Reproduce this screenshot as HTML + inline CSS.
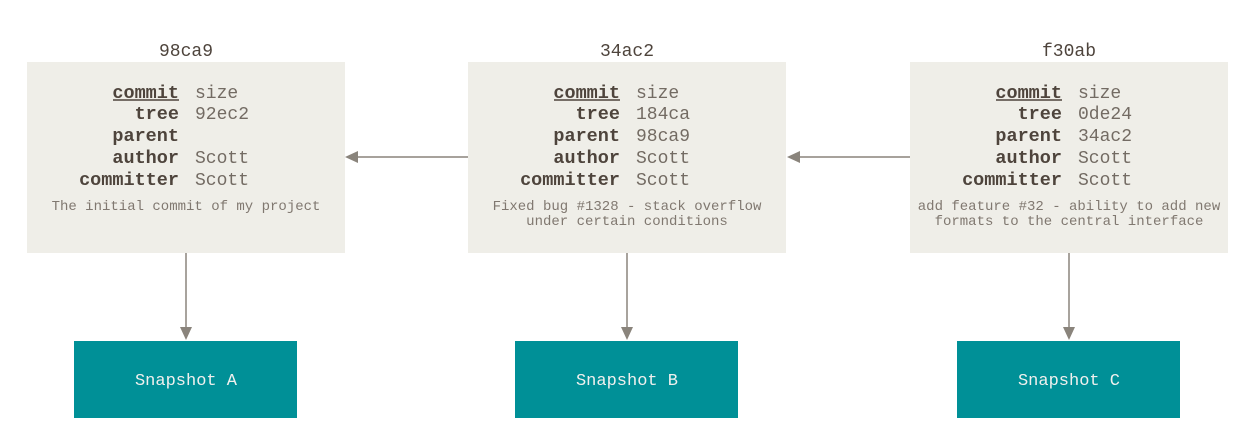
<!DOCTYPE html>
<html><head><meta charset="utf-8"><style>
html,body{margin:0;padding:0;background:#fff;}
svg{display:block;}
text{font-family:"Liberation Mono",monospace;}
.t{font-size:18px;fill:#4e443c;text-anchor:middle;}
.k{font-size:18.5px;font-weight:bold;fill:#4e443c;text-anchor:end;}
.v{font-size:18px;fill:#736b63;}
.m{font-size:14px;fill:#807870;text-anchor:middle;}
.s{font-size:17px;fill:#f0f0ee;text-anchor:middle;}
</style></head><body>
<svg width="1238" height="435" viewBox="0 0 1238 435">
<defs>
<g id="col">
</g>
</defs>
<!-- box 1 -->
<text class="t" x="186" y="56">98ca9</text>
<rect x="27" y="62" width="318" height="191" fill="#efeee8"/>
<text class="k" x="179" y="98">commit</text>
<line x1="113" y1="100" x2="179" y2="100" stroke="#4e443c" stroke-width="1.5"/>
<text class="k" x="179" y="119">tree</text>
<text class="k" x="179" y="141">parent</text>
<text class="k" x="179" y="163">author</text>
<text class="k" x="179" y="185">committer</text>
<text class="v" x="195" y="98">size</text>
<text class="v" x="195" y="119">92ec2</text>
<text class="v" x="195" y="163">Scott</text>
<text class="v" x="195" y="185">Scott</text>
<text class="m" x="186" y="210">The initial commit of my project</text>

<!-- box 2 -->
<text class="t" x="627" y="56">34ac2</text>
<rect x="468" y="62" width="318" height="191" fill="#efeee8"/>
<text class="k" x="620" y="98">commit</text>
<line x1="554" y1="100" x2="620" y2="100" stroke="#4e443c" stroke-width="1.5"/>
<text class="k" x="620" y="119">tree</text>
<text class="k" x="620" y="141">parent</text>
<text class="k" x="620" y="163">author</text>
<text class="k" x="620" y="185">committer</text>
<text class="v" x="636" y="98">size</text>
<text class="v" x="636" y="119">184ca</text>
<text class="v" x="636" y="141">98ca9</text>
<text class="v" x="636" y="163">Scott</text>
<text class="v" x="636" y="185">Scott</text>
<text class="m" x="627" y="210">Fixed bug #1328 - stack overflow</text>
<text class="m" x="627" y="225">under certain conditions</text>

<!-- box 3 -->
<text class="t" x="1069" y="56">f30ab</text>
<rect x="910" y="62" width="318" height="191" fill="#efeee8"/>
<text class="k" x="1062" y="98">commit</text>
<line x1="996" y1="100" x2="1062" y2="100" stroke="#4e443c" stroke-width="1.5"/>
<text class="k" x="1062" y="119">tree</text>
<text class="k" x="1062" y="141">parent</text>
<text class="k" x="1062" y="163">author</text>
<text class="k" x="1062" y="185">committer</text>
<text class="v" x="1078" y="98">size</text>
<text class="v" x="1078" y="119">0de24</text>
<text class="v" x="1078" y="141">34ac2</text>
<text class="v" x="1078" y="163">Scott</text>
<text class="v" x="1078" y="185">Scott</text>
<text class="m" x="1069" y="210">add feature #32 - ability to add new</text>
<text class="m" x="1069" y="225">formats to the central interface</text>

<!-- horizontal arrows -->
<line x1="468" y1="157" x2="356" y2="157" stroke="#8a847c" stroke-width="1.5"/>
<polygon points="345,157 358,151 358,163" fill="#8a847c"/>
<line x1="910" y1="157" x2="798" y2="157" stroke="#8a847c" stroke-width="1.5"/>
<polygon points="787,157 800,151 800,163" fill="#8a847c"/>

<!-- vertical arrows -->
<line x1="186" y1="253" x2="186" y2="329" stroke="#8a847c" stroke-width="1.5"/>
<polygon points="186,340 180,327 192,327" fill="#8a847c"/>
<line x1="627" y1="253" x2="627" y2="329" stroke="#8a847c" stroke-width="1.5"/>
<polygon points="627,340 621,327 633,327" fill="#8a847c"/>
<line x1="1069" y1="253" x2="1069" y2="329" stroke="#8a847c" stroke-width="1.5"/>
<polygon points="1069,340 1063,327 1075,327" fill="#8a847c"/>

<!-- snapshots -->
<rect x="74" y="341" width="223" height="77" fill="#009097"/>
<text class="s" x="186" y="385">Snapshot A</text>
<rect x="515" y="341" width="223" height="77" fill="#009097"/>
<text class="s" x="627" y="385">Snapshot B</text>
<rect x="957" y="341" width="223" height="77" fill="#009097"/>
<text class="s" x="1069" y="385">Snapshot C</text>
</svg>
</body></html>
